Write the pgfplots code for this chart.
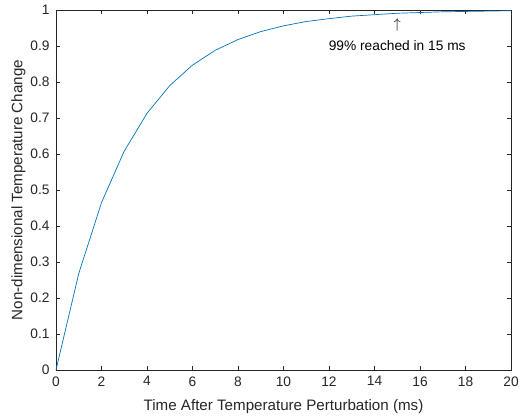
\documentclass[border=0pt]{standalone}
\usepackage{pgfplots}
\pgfplotsset{compat=1.18}
\usepackage{fontspec}
\setmainfont{Liberation Sans}
\definecolor{mblue}{rgb}{0,0.447,0.741}
\definecolor{mgray}{rgb}{0.15,0.15,0.15}
\begin{document}
\begin{tikzpicture}
\begin{axis}[
  name=ax,
  scale only axis,
  width=455bp, height=360bp,
  xmin=0, xmax=20, ymin=0, ymax=1,
  xtick={0,2,...,20},
  ytick={0,0.1,...,1},
  yticklabels={0,0.1,0.2,0.3,0.4,0.5,0.6,0.7,0.8,0.9,1},
  tick align=inside,
  major tick length=4.5bp,
  axis line style={mgray, line width=0.5pt},
  tick style={mgray, line width=0.5pt},
  ticklabel style={font=\fontsize{13.8}{16}\selectfont, text=mgray},
  yticklabel style={xshift=-3bp},
  xticklabel style={yshift=-3bp},
  /pgf/number format/assume math mode=true,
  label style={font=\fontsize{15.2}{18}\selectfont, text=mgray},
  xlabel={Time After Temperature Perturbation (ms)},
  ylabel={Non-dimensional Temperature Change},
  xlabel style={yshift=-6bp},
  ylabel style={yshift=-2bp},
  clip=false,
]
\addplot[mblue, line width=0.7pt] coordinates {
(0,0) (1,0.268) (2,0.465) (3,0.608) (4,0.713) (5,0.790) (6,0.847)
(7,0.888) (8,0.918) (9,0.940) (10,0.956) (11,0.968) (12,0.976)
(13,0.983) (14,0.987) (15,0.991) (16,0.993) (17,0.995) (18,0.996)
(19,0.997) (20,0.998)
};
\node[text=black, inner sep=0pt, font=\fontsize{14}{16}\selectfont] at (axis cs:15,0.958) {$\uparrow$};
\node[text=black, font=\fontsize{13.8}{16}\selectfont, inner sep=0pt] at (axis cs:15,0.900) {99\% reached in 15 ms};
\end{axis}
\pgfresetboundingbox
\path ([xshift=-56bp,yshift=-48bp]ax.south west) rectangle ([xshift=9bp,yshift=10bp]ax.north east);
\end{tikzpicture}
\end{document}
